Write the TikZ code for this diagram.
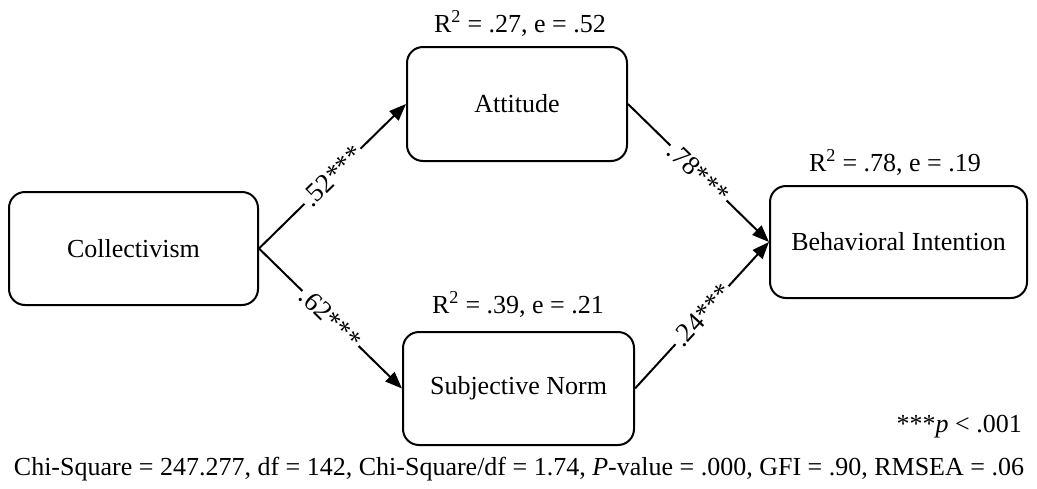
\documentclass[tikz,border=0pt]{standalone}
\usepackage{fontspec}
\setmainfont{Liberation Serif}
\usetikzlibrary{arrows.meta}
\begin{document}
\begin{tikzpicture}[x=1pt,y=-1pt,
  every node/.style={font=\fontsize{26}{30}\selectfont},
  box/.style={draw,line width=2pt,rounded corners=16pt,align=center},
  link/.style={line width=2pt,-{Triangle[length=17pt,width=13pt]}},
  coef/.style={sloped,midway,fill=white,inner sep=2pt,font=\fontsize{27}{30}\selectfont},
  txt/.style={anchor=base,inner sep=0pt}]
\useasboundingbox (0,0) rectangle (1037,488);
\node[box,minimum width=249pt,minimum height=113pt] (col) at (133.5,248.5) {Collectivism};
\node[box,minimum width=220pt,minimum height=114pt] (att) at (517,104) {Attitude};
\node[box,minimum width=231pt,minimum height=113pt] (sn) at (518.5,388.5) {Subjective Norm};
\node[box,minimum width=257pt,minimum height=112pt] (bi) at (898.5,242) {Behavioral Intention};
\node[txt] (r1) at (520,32) {R\textsuperscript{2} = .27, e = .52};
\node[txt] (r2) at (895,171) {R\textsuperscript{2} = .78, e = .19};
\node[txt] (r3) at (518,313) {R\textsuperscript{2} = .39, e = .21};
\node[txt,anchor=base east] (pv) at (1022,432) {***\textit{p} {\textless} .001};
\node[txt] (fit) at (519,475) {Chi-Square = 247.277, df = 142, Chi-Square/df = 1.74, \textit{P}-value = .000, GFI = .90, RMSEA = .06};
\draw[link] (col.east) -- node[coef] {.52***} (att.west);
\draw[link] (col.east) -- node[coef] {.62***} (sn.west);
\draw[link] (att.east) -- node[coef] {.78***} (bi.west);
\draw[link] (sn.east) -- node[coef] {.24***} (bi.west);
\end{tikzpicture}
\end{document}
